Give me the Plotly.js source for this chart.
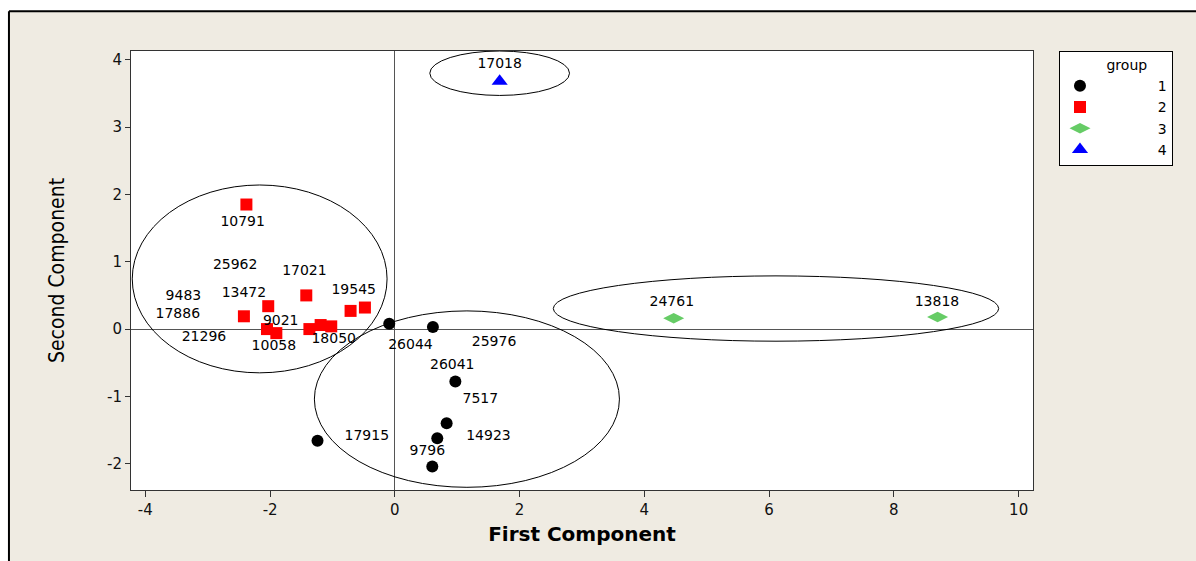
<!DOCTYPE html>
<html>
<head>
<meta charset="utf-8">
<script src="https://cdn.plot.ly/plotly-3.0.1.min.js"></script>
<style>html,body{margin:0;padding:0;background:#fff;}#chart{width:1196px;height:561px;}</style>
</head>
<body>
<div id="chart"></div>
<script>
// ---- data ----
var groupNames = ['1', '2', '3', '4'];

// group 1 (black circles)
var g1x = [-0.09, 0.61, 0.97, 0.83, 0.68, 0.60, -1.24];
var g1y = [0.08, 0.03, -0.78, -1.40, -1.62, -2.04, -1.66];
// group 2 (red squares)
var g2x = [-2.38, -1.42, -2.03, -2.42, -2.05, -1.90, -1.37, -1.19, -1.02, -0.71, -0.48];
var g2y = [1.85, 0.50, 0.34, 0.19, 0.00, -0.06, 0.00, 0.06, 0.04, 0.27, 0.32];
// group 3 (green diamonds)
var g3x = [4.47, 8.70];
var g3y = [0.16, 0.18];
// group 4 (blue triangle)
var g4x = [1.68];
var g4y = [3.68];

// point labels (as placed in the reference)
var labelText = ['10791', '25962', '17021', '9483', '13472', '19545', '17886', '9021', '21296', '10058', '18050',
                 '26044', '25976', '26041', '7517', '17915', '14923', '9796',
                 '24761', '13818', '17018'];
var labelX = [-2.44, -2.56, -1.45, -3.39, -2.42, -0.66, -3.48, -1.83, -3.06, -1.94, -0.98,
              0.25, 1.59, 0.92, 1.37, -0.45, 1.50, 0.52,
              4.44, 8.69, 1.68];
var labelY = [1.59, 0.94, 0.86, 0.49, 0.53, 0.58, 0.22, 0.12, -0.13, -0.26, -0.16,
              -0.24, -0.20, -0.54, -1.05, -1.60, -1.60, -1.82,
              0.40, 0.40, 3.93];

// cluster ellipses: [x0, x1, y0, y1]
var ellipses = [
  [-4.21, -0.125, -0.65, 2.14],
  [-1.29, 3.60, -2.35, 0.27],
  [2.54, 9.68, -0.18, 0.79],
  [0.56, 2.80, 3.47, 4.13]
];

var xTicks = [-4, -2, 0, 2, 4, 6, 8, 10];
var yTicks = [-2, -1, 0, 1, 2, 3, 4];

// ---- chart ----
var pad = '\u00a0'.repeat(13);
var traces = [
  {x: g1x, y: g1y, type: 'scatter', mode: 'markers', name: pad + groupNames[0],
   marker: {symbol: 'circle', size: 12, color: '#000000'}},
  {x: g2x, y: g2y, type: 'scatter', mode: 'markers', name: pad + groupNames[1],
   marker: {symbol: 'square', size: 12, color: '#ff0000'}},
  {x: g3x, y: g3y, type: 'scatter', mode: 'markers', name: pad + groupNames[2],
   marker: {symbol: 'diamond-wide', size: 15, color: '#66cc66'}},
  {x: g4x, y: g4y, type: 'scatter', mode: 'markers', name: pad + groupNames[3],
   marker: {symbol: 'triangle-up', size: 14, color: '#0000ff'}},
  {x: labelX, y: labelY, text: labelText, type: 'scatter', mode: 'text', showlegend: false,
   textfont: {family: 'DejaVu Sans', size: 14, color: '#000000'}, cliponaxis: false}
];

var shapes = ellipses.map(function (e) {
  return {type: 'circle', xref: 'x', yref: 'y', x0: e[0], x1: e[1], y0: e[2], y1: e[3],
          line: {color: '#000000', width: 1}, fillcolor: 'rgba(0,0,0,0)', layer: 'above'};
});
// white strip above / left of the frame and the frame lines
shapes.push({type: 'rect', xref: 'paper', yref: 'paper', x0: -0.2, x1: 1.3, y0: 1.0904, y1: 1.2,
             fillcolor: '#ffffff', line: {width: 0}, layer: 'above'});
shapes.push({type: 'rect', xref: 'paper', yref: 'paper', x0: -0.2, x1: -0.1353, y0: -0.2, y1: 1.2,
             fillcolor: '#ffffff', line: {width: 0}, layer: 'above'});
shapes.push({type: 'line', xref: 'paper', yref: 'paper', x0: -0.1353, x1: 1.3, y0: 1.0904, y1: 1.0904,
             line: {color: '#000000', width: 2}, layer: 'above'});
shapes.push({type: 'line', xref: 'paper', yref: 'paper', x0: -0.1353, x1: -0.1353, y0: -0.2, y1: 1.0904,
             line: {color: '#000000', width: 2}, layer: 'above'});

var layout = {
  width: 1196, height: 561,
  margin: {l: 131, r: 163, t: 51, b: 71, pad: 0},
  paper_bgcolor: '#efebe2',
  plot_bgcolor: '#ffffff',
  showlegend: true,
  hovermode: false,
  font: {family: 'DejaVu Sans', size: 13, color: '#000000'},
  xaxis: {
    range: [-4.23, 10.23], tickvals: xTicks, ticktext: xTicks.map(String),
    ticks: 'outside', ticklen: 6, tickcolor: '#333', showgrid: false,
    zeroline: true, zerolinecolor: '#555', zerolinewidth: 1,
    showline: true, linecolor: '#333', linewidth: 1, mirror: true,
    tickfont: {family: 'DejaVu Sans', size: 15, color: '#111'},
    title: {text: 'First Component', standoff: 8,
            font: {family: 'DejaVu Sans', size: 20, color: '#000', weight: 'bold'}}
  },
  yaxis: {
    range: [-2.39, 4.13], tickvals: yTicks, ticktext: yTicks.map(String),
    ticks: 'outside', ticklen: 5, tickcolor: '#333', showgrid: false,
    zeroline: true, zerolinecolor: '#555', zerolinewidth: 1,
    showline: true, linecolor: '#333', linewidth: 1, mirror: true,
    tickfont: {family: 'DejaVu Sans', size: 15, color: '#111'},
    title: {text: 'Second Component', standoff: 36,
            font: {family: 'DejaVu Sans Condensed', size: 21, color: '#000'}}
  },
  legend: {
    x: 1.0288, xanchor: 'left', y: 1.0, yanchor: 'top',
    bgcolor: '#ffffff', bordercolor: '#000000', borderwidth: 1,
    font: {family: 'DejaVu Sans', size: 14, color: '#000'},
    title: {text: '\u00a0'.repeat(10) + 'group', font: {family: 'DejaVu Sans', size: 14, color: '#000'}},
    tracegroupgap: 0
  },
  shapes: shapes
};

Plotly.newPlot('chart', traces, layout, {displayModeBar: false, staticPlot: true});
</script>
</body>
</html>
